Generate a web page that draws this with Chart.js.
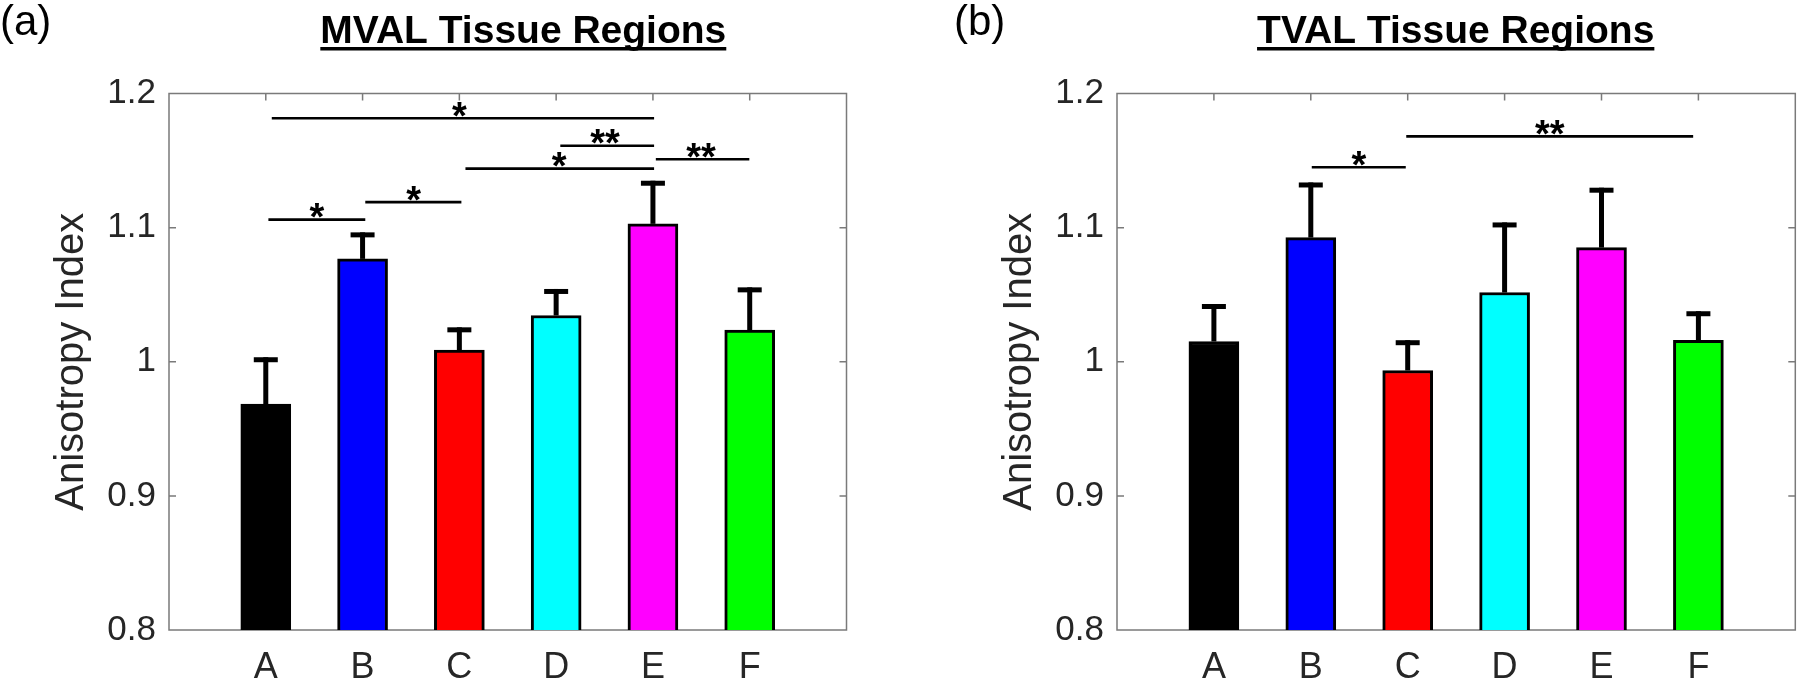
<!DOCTYPE html>
<html><head><meta charset="utf-8">
<script src="https://cdn.jsdelivr.net/npm/chart.js@4.4.1/dist/chart.umd.min.js"></script>
<style>
html,body{margin:0;padding:0;background:#fff;}
#wrap{position:relative;width:1800px;height:682px;background:#fff;}
.c{position:absolute;top:0;width:900px;height:682px;}
</style></head><body>
<div id="wrap">
<div class="c" style="left:0"><canvas id="cA" width="900" height="682"></canvas></div>
<div class="c" style="left:900px"><canvas id="cB" width="900" height="682"></canvas></div>
</div>
<script>
// ---- data ----
const categories = ['A','B','C','D','E','F'];
const barColors = ['#000000','#0000ff','#ff0000','#00ffff','#ff00ff','#00ff00'];
const yTickValues = [0.8, 0.9, 1.0, 1.1, 1.2];
const yTickLabels = ['0.8', '0.9', '1', '1.1', '1.2'];
const yAxisLabel = 'Anisotropy Index';

const mvalTitle = 'MVAL Tissue Regions';
const mvalPanel = '(a)';
const mvalMeans  = [0.9685, 1.0767, 1.0087, 1.0345, 1.1028, 1.0236];
const mvalErrTop = [1.0015, 1.0946, 1.0238, 1.0524, 1.1331, 1.0536];
const mvalSigFrom  = [1.062, 4.043, 3.063, 5.030, 1.027, 2.028];
const mvalSigTo    = [5.012, 5.012, 5.012, 5.996, 2.028, 3.021];
const mvalSigY     = [1.1815, 1.161, 1.144, 1.151, 1.106, 1.119];
const mvalSigStarX = [3.0, 4.505, 4.03, 5.496, 1.527, 2.528];
const mvalSigText  = ['*', '**', '*', '**', '*', '*'];

const tvalTitle = 'TVAL Tissue Regions';
const tvalPanel = '(b)';
const tvalMeans  = [1.0151, 1.0926, 0.9935, 1.0516, 1.0851, 1.0159];
const tvalErrTop = [1.0412, 1.1318, 1.0142, 1.1020, 1.1279, 1.0358];
const tvalSigFrom  = [2.010, 2.985];
const tvalSigTo    = [2.980, 5.946];
const tvalSigY     = [1.145, 1.168];
const tvalSigStarX = [2.496, 4.467];
const tvalSigText  = ['*', '**'];

// ---- rendering ----
const FONT = '"Liberation Sans", Arial, Helvetica, sans-serif';
const TXT = '#262626';

function overlayPlugin(cfg) {
  return {
    id: 'overlay',
    beforeDatasetsDraw(chart) {
      const {ctx, chartArea: a, scales: {x, y}} = chart;
      ctx.save();
      ctx.strokeStyle = '#7a7a7a';
      ctx.lineWidth = 1.5;
      ctx.strokeRect(a.left, a.top, a.right - a.left, a.bottom - a.top);
      ctx.beginPath();
      const tl = 7;
      x.ticks.forEach(t => {
        const px = x.getPixelForValue(t.value);
        if (px <= a.left + 1 || px >= a.right - 1) return;
        ctx.moveTo(px, a.top); ctx.lineTo(px, a.top + tl);
        ctx.moveTo(px, a.bottom); ctx.lineTo(px, a.bottom - tl);
      });
      y.ticks.forEach(t => {
        const py = y.getPixelForValue(t.value);
        if (py <= a.top + 1 || py >= a.bottom - 1) return;
        ctx.moveTo(a.left, py); ctx.lineTo(a.left + tl, py);
        ctx.moveTo(a.right, py); ctx.lineTo(a.right - tl, py);
      });
      ctx.stroke();
      ctx.restore();
    },
    afterDatasetsDraw(chart) {
      const {ctx, scales: {x, y}} = chart;
      ctx.save();
      ctx.strokeStyle = '#000';
      ctx.lineCap = 'butt';
      // error bars (upper only)
      cfg.means.forEach((m, i) => {
        const px = x.getPixelForValue(i + 1);
        const y0 = y.getPixelForValue(m);
        const y1 = y.getPixelForValue(cfg.errTop[i]);
        ctx.lineWidth = 5;
        ctx.beginPath(); ctx.moveTo(px, y0); ctx.lineTo(px, y1 - 2.5); ctx.stroke();
        ctx.beginPath(); ctx.moveTo(px - 12, y1); ctx.lineTo(px + 12, y1); ctx.stroke();
      });
      // significance lines
      ctx.lineWidth = 2.6;
      ctx.fillStyle = '#000';
      ctx.font = 'bold 38px ' + FONT;
      ctx.textAlign = 'center';
      ctx.textBaseline = 'alphabetic';
      cfg.sigFrom.forEach((f, i) => {
        const py = y.getPixelForValue(cfg.sigY[i]);
        ctx.beginPath();
        ctx.moveTo(x.getPixelForValue(f), py);
        ctx.lineTo(x.getPixelForValue(cfg.sigTo[i]), py);
        ctx.stroke();
        const m = ctx.measureText(cfg.sigText[i]);
        const base = py - 1.5 - m.actualBoundingBoxDescent;
        ctx.fillText(cfg.sigText[i], x.getPixelForValue(cfg.sigStarX[i]), base);
      });
      ctx.restore();
    },
    afterDraw(chart) {
      const {ctx} = chart;
      ctx.save();
      ctx.fillStyle = '#000';
      ctx.textBaseline = 'alphabetic';
      // panel letter
      ctx.font = '42px ' + FONT;
      ctx.textAlign = 'left';
      ctx.fillText(cfg.panel, cfg.panelX, 34.5);
      // underlined bold title
      ctx.font = 'bold 39px ' + FONT;
      ctx.textAlign = 'center';
      ctx.fillText(cfg.title, cfg.titleX, 43.3);
      const w = ctx.measureText(cfg.title).width;
      ctx.fillRect(cfg.titleX - w / 2, 47, w, 3.5);
      ctx.restore();
    }
  };
}

function makeChart(id, cfg) {
  return new Chart(document.getElementById(id), {
    type: 'bar',
    data: {
      datasets: [{
        data: categories.map((c, i) => ({x: i + 1, y: cfg.means[i]})),
        backgroundColor: barColors,
        borderColor: '#000',
        borderWidth: 3,
        borderSkipped: false,
        barThickness: 50
      }]
    },
    options: {
      responsive: false,
      animation: false,
      devicePixelRatio: 1,
      layout: {padding: {top: 93.5, right: cfg.padRight, bottom: 0, left: 0}},
      plugins: {legend: {display: false}, tooltip: {enabled: false}, title: {display: false}},
      scales: {
        x: {
          type: 'linear', min: 0, max: 7, offset: false,
          afterBuildTicks: s => { s.ticks = categories.map((c, i) => ({value: i + 1})); },
          ticks: {
            autoSkip: false, maxRotation: 0, padding: 16,
            color: TXT, font: {family: FONT, size: 36},
            callback: v => categories[Math.round(v) - 1] || ''
          },
          grid: {display: false, drawTicks: false, offset: false},
          border: {display: false},
          afterFit: s => { s.height = 52; }
        },
        y: {
          min: 0.8, max: 1.2,
          afterBuildTicks: s => { s.ticks = yTickValues.map(v => ({value: v})); },
          ticks: {
            padding: 13, color: TXT, font: {family: FONT, size: 35},
            callback: v => { const i = yTickValues.findIndex(t => Math.abs(t - v) < 1e-9); return i >= 0 ? yTickLabels[i] : ''; }
          },
          grid: {display: false, drawTicks: false},
          border: {display: false},
          title: {display: true, text: yAxisLabel, color: TXT, font: {family: FONT, size: 40}, padding: {top: cfg.ylabPad, bottom: 0}},
          afterFit: s => { s.width = cfg.axisLeft; }
        }
      }
    },
    plugins: [overlayPlugin(cfg)]
  });
}

makeChart('cA', {
  means: mvalMeans, errTop: mvalErrTop,
  sigFrom: mvalSigFrom, sigTo: mvalSigTo, sigY: mvalSigY, sigStarX: mvalSigStarX, sigText: mvalSigText,
  title: mvalTitle, titleX: 523.3, panel: mvalPanel, panelX: 0,
  axisLeft: 169, padRight: 53.5, ylabPad: 48
});
makeChart('cB', {
  means: tvalMeans, errTop: tvalErrTop,
  sigFrom: tvalSigFrom, sigTo: tvalSigTo, sigY: tvalSigY, sigStarX: tvalSigStarX, sigText: tvalSigText,
  title: tvalTitle, titleX: 555.7, panel: tvalPanel, panelX: 54,
  axisLeft: 217, padRight: 4.7, ylabPad: 95.5
});
</script>
</body></html>
